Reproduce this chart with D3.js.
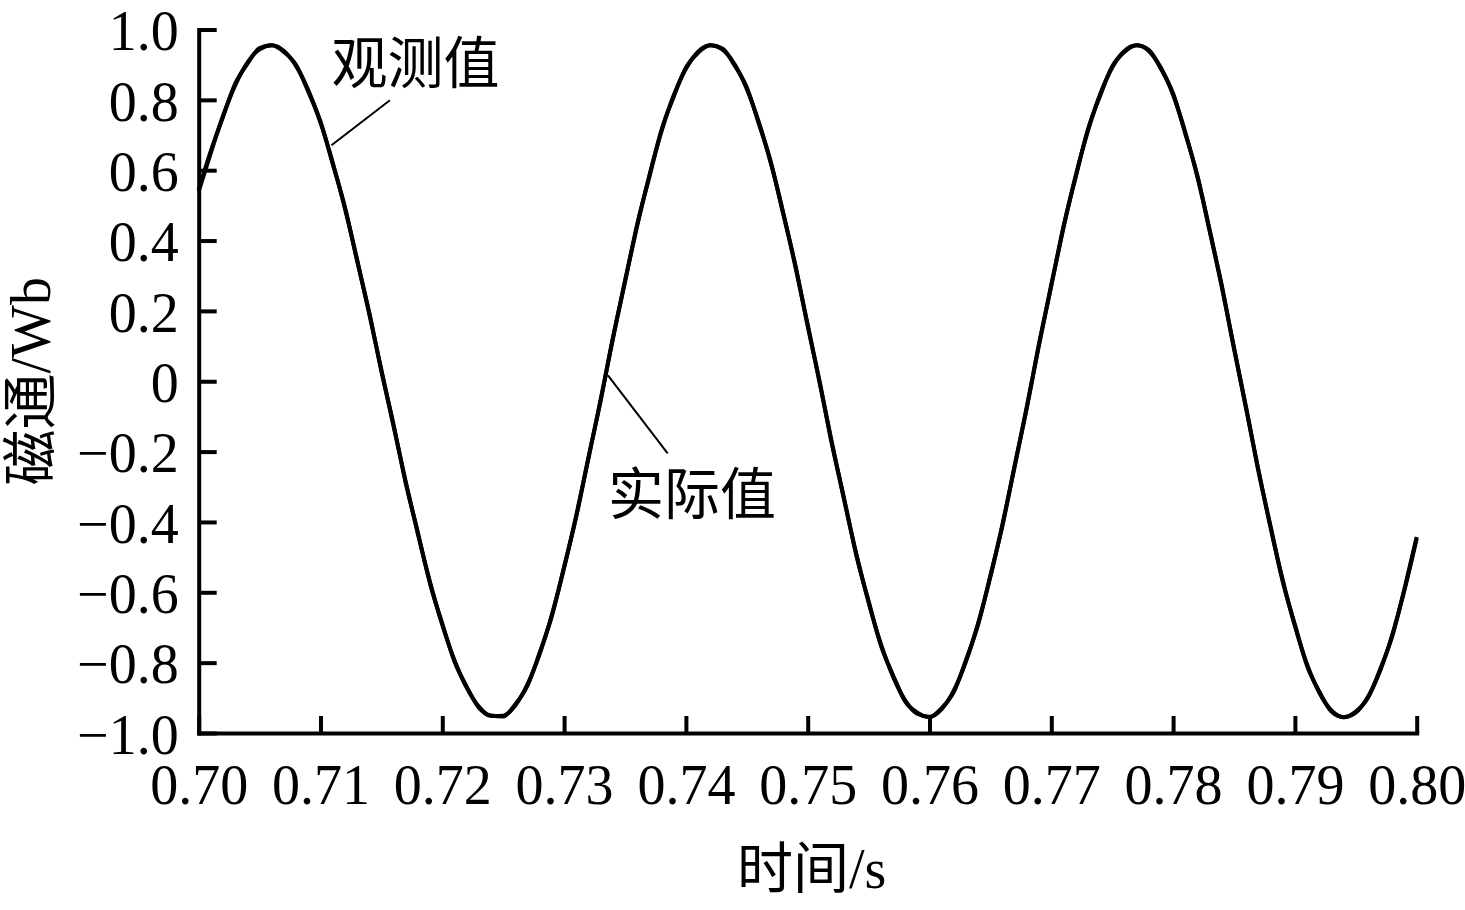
<!DOCTYPE html>
<html>
<head>
<meta charset="utf-8">
<script src="https://cdn.jsdelivr.net/npm/d3@7/dist/d3.min.js"></script>
<style>
  html, body { margin: 0; padding: 0; background: #fff; }
  svg { display: block; }
  text { font-family: "Liberation Serif", "Noto Sans CJK SC", serif; fill: #000; }
</style>
</head>
<body>
<script>
// ---- data ----
const timeValues = [
  0.700,0.701,0.702,0.703,0.704,0.705,0.706,0.707,0.708,0.709,
  0.710,0.711,0.712,0.713,0.714,0.715,0.716,0.717,0.718,0.719,
  0.720,0.721,0.722,0.723,0.724,0.725,0.726,0.727,0.728,0.729,
  0.730,0.731,0.732,0.733,0.734,0.735,0.736,0.737,0.738,0.739,
  0.740,0.741,0.742,0.743,0.744,0.745,0.746,0.747,0.748,0.749,
  0.750,0.751,0.752,0.753,0.754,0.755,0.756,0.757,0.758,0.759,
  0.760,0.761,0.762,0.763,0.764,0.765,0.766,0.767,0.768,0.769,
  0.770,0.771,0.772,0.773,0.774,0.775,0.776,0.777,0.778,0.779,
  0.780,0.781,0.782,0.783,0.784,0.785,0.786,0.787,0.788,0.789,
  0.790,0.791,0.792,0.793,0.794,0.795,0.796,0.797,0.798,0.799,
  0.800
];
// 实际值 (actual flux, Wb)
const actualValues = [
  0.540,0.650,0.755,0.842,0.906,0.944,0.955,0.939,0.896,0.827,
  0.735,0.622,0.492,0.347,0.192,0.032,-0.128,-0.286,-0.435,-0.572,
  -0.693,-0.793,-0.871,-0.925,-0.952,-0.951,-0.921,-0.861,-0.775,-0.663,
  -0.531,-0.381,-0.220,-0.052,0.119,0.286,0.442,0.585,0.711,0.813,
  0.888,0.937,0.955,0.943,0.901,0.831,0.735,0.616,0.478,0.324,
  0.161,-0.008,-0.177,-0.339,-0.492,-0.629,-0.746,-0.839,-0.907,-0.945,
  -0.954,-0.932,-0.879,-0.796,-0.687,-0.556,-0.405,-0.242,-0.070,0.104,
  0.275,0.436,0.584,0.711,0.815,0.892,0.939,0.955,0.939,0.891,
  0.814,0.708,0.580,0.431,0.268,0.096,-0.079,-0.251,-0.416,-0.565,
  -0.696,-0.805,-0.885,-0.936,-0.955,-0.942,-0.897,-0.823,-0.720,-0.593,
  -0.447
];
// 观测值 (observed flux, Wb)
const observedValues = [
  0.545,0.655,0.752,0.846,0.903,0.947,0.955,0.936,0.899,0.823,
  0.738,0.618,0.496,0.343,0.196,0.028,-0.124,-0.290,-0.431,-0.576,
  -0.689,-0.797,-0.868,-0.928,-0.950,-0.953,-0.918,-0.865,-0.771,-0.667,
  -0.527,-0.385,-0.216,-0.056,0.123,0.282,0.446,0.581,0.715,0.809,
  0.891,0.934,0.955,0.946,0.898,0.835,0.731,0.620,0.474,0.328,
  0.157,-0.004,-0.181,-0.335,-0.496,-0.625,-0.750,-0.835,-0.910,-0.942,
  -0.955,-0.929,-0.883,-0.792,-0.691,-0.552,-0.409,-0.238,-0.074,0.108,
  0.271,0.440,0.580,0.715,0.811,0.895,0.936,0.955,0.942,0.888,
  0.818,0.704,0.584,0.427,0.272,0.092,-0.075,-0.255,-0.412,-0.569,
  -0.692,-0.809,-0.882,-0.939,-0.955,-0.939,-0.900,-0.819,-0.724,-0.589,
  -0.443
];
const xTickValues = [0.70,0.71,0.72,0.73,0.74,0.75,0.76,0.77,0.78,0.79,0.80];
const xTickLabels = ["0.70","0.71","0.72","0.73","0.74","0.75","0.76","0.77","0.78","0.79","0.80"];
const yTickValues = [-1.0,-0.8,-0.6,-0.4,-0.2,0,0.2,0.4,0.6,0.8,1.0];
const yTickLabels = ["\u22121.0","\u22120.8","\u22120.6","\u22120.4","\u22120.2","0","0.2","0.4","0.6","0.8","1.0"];
const xAxisTitle = "时间/s";
const yAxisTitle = "磁通/Wb";
const annotationLabels = ["观测值", "实际值"];
// annotation anchors in data units: [text t, line t1, line t2] and [text v, line v1, line v2]
const annotationTimes = [[0.7109, 0.7157, 0.7109], [0.7336, 0.7336, 0.7385]];
const annotationFlux  = [[0.902, 0.799, 0.671], [-0.323, 0.017, -0.205]];

// ---- layout ----
const W = 1465, H = 910;
const x = d3.scaleLinear().domain([0.70, 0.80]).range([198.7, 1416.7]);
const y = d3.scaleLinear().domain([-1, 1]).range([733, 29.5]);

const svg = d3.select("body").append("svg").attr("width", W).attr("height", H);

const FONT = 56;

// axes
const yAxis = d3.axisLeft(y)
  .tickValues(yTickValues)
  .tickFormat((d, i) => yTickLabels[i])
  .tickSizeInner(-18).tickSizeOuter(0).tickPadding(20);
const xAxis = d3.axisBottom(x)
  .tickValues(xTickValues)
  .tickFormat((d, i) => xTickLabels[i])
  .tickSizeInner(-17).tickSizeOuter(0).tickPadding(31);

const gy = svg.append("g").attr("transform", `translate(${x.range()[0]},0)`).call(yAxis);
const gx = svg.append("g").attr("transform", `translate(0,${y.range()[0]})`).call(xAxis);

[gx, gy].forEach(g => {
  g.select(".domain").attr("stroke", "#000").attr("stroke-width", 4).attr("stroke-linecap", "square");
  g.selectAll(".tick line").attr("stroke", "#000").attr("stroke-width", 4);
  g.selectAll(".tick text")
    .attr("font-family", "'Liberation Serif', serif")
    .attr("font-size", FONT).attr("fill", "#000");
});
gy.selectAll(".tick text").attr("dy", "0.36em");

// lines
const lineGen = d3.line()
  .x((d, i) => x(timeValues[i]))
  .y(d => y(d))
  .curve(d3.curveMonotoneX);

svg.append("path").datum(actualValues)
  .attr("d", lineGen).attr("fill", "none")
  .attr("stroke", "#000").attr("stroke-width", 4).attr("stroke-linejoin", "round");
svg.append("path").datum(observedValues)
  .attr("d", lineGen).attr("fill", "none")
  .attr("stroke", "#000").attr("stroke-width", 4).attr("stroke-linejoin", "round");

// annotations
annotationLabels.forEach((lab, i) => {
  const ts = annotationTimes[i], vs = annotationFlux[i];
  svg.append("line")
    .attr("x1", x(ts[1])).attr("y1", y(vs[1]))
    .attr("x2", x(ts[2])).attr("y2", y(vs[2]))
    .attr("stroke", "#000").attr("stroke-width", 2);
  svg.append("text")
    .attr("x", x(ts[0])).attr("y", y(vs[0]))
    .attr("dominant-baseline", "central")
    .attr("font-size", FONT)
    .text(lab);
});

// axis titles
svg.append("text")
  .attr("x", (x.range()[0] + x.range()[1]) / 2 + 4)
  .attr("y", 869)
  .attr("text-anchor", "middle")
  .attr("dominant-baseline", "central")
  .attr("font-size", FONT)
  .text(xAxisTitle);

svg.append("text")
  .attr("transform", `translate(31,${(y.range()[0] + y.range()[1]) / 2}) rotate(-90)`)
  .attr("text-anchor", "middle")
  .attr("dominant-baseline", "central")
  .attr("font-size", FONT)
  .text(yAxisTitle);
</script>
</body>
</html>
